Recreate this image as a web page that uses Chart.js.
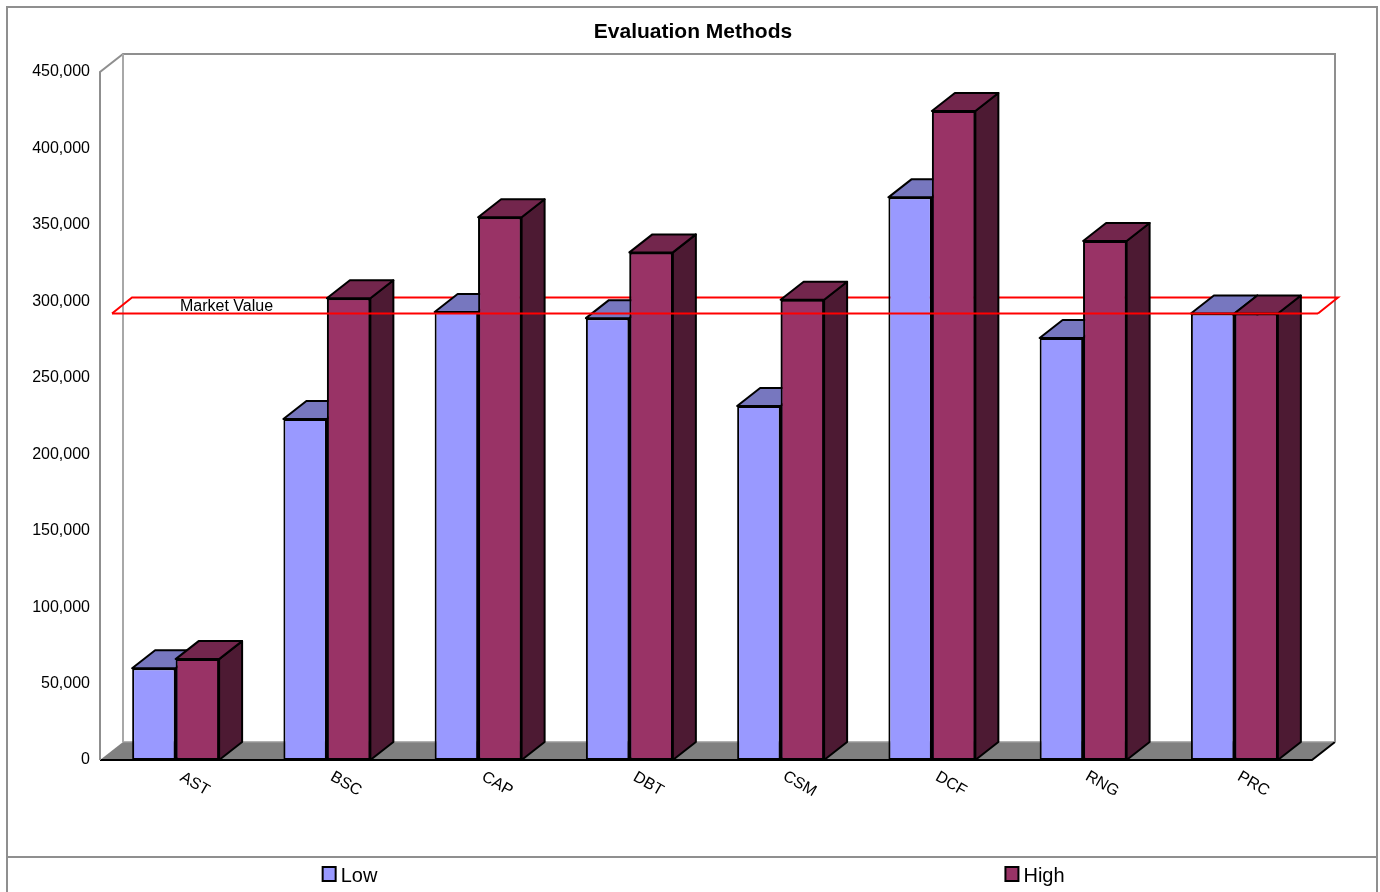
<!DOCTYPE html>
<html><head><meta charset="utf-8">
<script src="https://cdn.jsdelivr.net/npm/chart.js@4.4.1/dist/chart.umd.min.js"></script>
<style>html,body{margin:0;padding:0;background:#fff;overflow:hidden}#wrap{width:1380px;height:892px;position:relative}</style>
</head><body><div id="wrap"><canvas id="c"></canvas></div>
<script>
const chartTitle = 'Evaluation Methods';
const categories = ['AST','BSC','CAP','DBT','CSM','DCF','RNG','PRC'];
const seriesNames = ['Low','High'];
const lowValues  = [60000, 223000, 293000, 289000, 231500, 368000, 276000, 292000];
const highValues = [66000, 302000, 355000, 332000, 301000, 424500, 339500, 292000];
const marketValue = 292000;
const marketLabel = 'Market Value';
const yTickValues = [0, 50000, 100000, 150000, 200000, 250000, 300000, 350000, 400000, 450000];

const FONT = "'Liberation Sans', Arial, Helvetica, sans-serif";
const DX = 23, DY = -18;
const GRAY = '#8f8f8f';
const colors = [
  {front:'#9999FF', top:'#7777BF', side:'#4D4D80'},
  {front:'#993366', top:'#73264D', side:'#4D1A33'}
];

function line(ctx, pts, color, w){
  ctx.save(); ctx.strokeStyle = color; ctx.lineWidth = w; ctx.lineJoin='miter';
  ctx.beginPath(); ctx.moveTo(pts[0][0], pts[0][1]);
  for (let i=1;i<pts.length;i++) ctx.lineTo(pts[i][0], pts[i][1]);
  ctx.stroke(); ctx.restore();
}
function poly(ctx, pts, fill){
  ctx.save(); ctx.fillStyle = fill; ctx.strokeStyle='#000'; ctx.lineWidth=2; ctx.lineJoin='round';
  ctx.beginPath(); ctx.moveTo(pts[0][0], pts[0][1]);
  for (let i=1;i<pts.length;i++) ctx.lineTo(pts[i][0], pts[i][1]);
  ctx.closePath(); ctx.fill(); ctx.stroke(); ctx.restore();
}

const excel3d = {
  id: 'excel3d',
  beforeDraw(chart){
    const ctx = chart.ctx;
    ctx.save();
    ctx.fillStyle = '#fff'; ctx.fillRect(0,0,chart.width,chart.height);
    ctx.strokeStyle = GRAY; ctx.lineWidth = 2;
    ctx.strokeRect(7, 7, 1370, 850);
    line(ctx, [[7,857],[7,chart.height+2]], GRAY, 2);
    line(ctx, [[1377,857],[1377,chart.height+2]], GRAY, 2);
    ctx.restore();
  },
  beforeDatasetsDraw(chart){
    const ctx = chart.ctx;
    const {left, right, top, bottom} = chart.chartArea;
    const R = right + 2;
    ctx.save();
    ctx.fillStyle = '#808080';
    ctx.beginPath();
    ctx.moveTo(left, bottom); ctx.lineTo(left+DX, bottom+DY); ctx.lineTo(R+DX, bottom+DY); ctx.lineTo(R, bottom);
    ctx.closePath(); ctx.fill(); ctx.restore();
    line(ctx, [[left+DX, bottom+DY],[R+DX, bottom+DY]], '#999', 1.5);
    line(ctx, [[left, bottom],[R, bottom],[R+DX, bottom+DY]], '#000', 2);
    line(ctx, [[left, bottom],[left, top],[left+DX, top+DY],[R+DX, top+DY],[R+DX, bottom+DY]], GRAY, 2);
    line(ctx, [[left+DX, top+DY],[left+DX, bottom+DY]], '#a8a8a8', 2);
    const y = chart.scales.y.getPixelForValue(marketValue);
    const fl = left + 12, fr = right + 8, bdx = 20, bdy = -16;
    line(ctx, [[fl, y],[fl+bdx, y+bdy],[fr+bdx, y+bdy],[fr, y]], '#ff0000', 2);
  },
  afterDatasetsDraw(chart){
    const ctx = chart.ctx;
    const {left, right, top, bottom} = chart.chartArea;
    chart.data.datasets.forEach((ds, di) => {
      const meta = chart.getDatasetMeta(di);
      const c = colors[di];
      meta.data.forEach(el => {
        const p = el.getProps(['x','y','base','width'], true);
        const l = p.x - p.width/2, r = p.x + p.width/2, t = p.y, b = p.base;
        if (di > 0) el.draw(ctx);
        poly(ctx, [[r, t],[r+DX, t+DY],[r+DX, b+DY],[r, b]], c.side);
        poly(ctx, [[l, t],[l+DX, t+DY],[r+DX, t+DY],[r, t]], c.top);
      });
    });
    const y = chart.scales.y.getPixelForValue(marketValue);
    line(ctx, [[left+12, y],[right+8, y]], '#ff0000', 2);
    ctx.save();
    ctx.fillStyle = '#000'; ctx.font = '16px ' + FONT; ctx.textAlign = 'left'; ctx.textBaseline = 'middle';
    ctx.fillText(marketLabel, left + 80, y - 7);
    ctx.restore();
    const xs = chart.scales.x;
    ctx.save();
    ctx.fillStyle = '#000'; ctx.font = '16px ' + FONT; ctx.textAlign='center'; ctx.textBaseline='middle';
    categories.forEach((lab, i) => {
      const x = xs.getPixelForValue(i);
      ctx.save(); ctx.translate(x + 19, bottom + 24); ctx.rotate(Math.PI/6);
      ctx.fillText(lab, 0, 0); ctx.restore();
    });
    ctx.restore();
    ctx.save();
    ctx.fillStyle = '#000'; ctx.font = 'bold 21px ' + FONT; ctx.textAlign = 'center'; ctx.textBaseline = 'alphabetic';
    ctx.fillText(chartTitle, 693, 38);
    ctx.restore();
    ctx.save();
    ctx.font = '20px ' + FONT; ctx.textBaseline = 'alphabetic'; ctx.textAlign = 'left';
    const x0 = 7, w = 1370;
    seriesNames.forEach((name, i) => {
      const cx = x0 + w * (i === 0 ? 0.25 : 0.75);
      const tw = ctx.measureText(name).width;
      const iw = 14 + 5 + tw;
      const sx = cx - iw/2;
      ctx.fillStyle = colors[i].front; ctx.fillRect(sx+1, 867, 13, 14);
      ctx.strokeStyle = '#000'; ctx.lineWidth = 2; ctx.strokeRect(sx+1, 867, 13, 14);
      ctx.fillStyle = '#000'; ctx.fillText(name, sx + 19, 882);
    });
    ctx.restore();
  }
};

new Chart(document.getElementById('c'), {
  type: 'bar',
  data: {
    labels: categories,
    datasets: [
      {label: seriesNames[0], data: lowValues, backgroundColor: colors[0].front, borderColor: '#000', borderWidth: 2, borderSkipped: false},
      {label: seriesNames[1], data: highValues, backgroundColor: colors[1].front, borderColor: '#000', borderWidth: 2, borderSkipped: false}
    ]
  },
  options: {
    responsive: true, maintainAspectRatio: false, animation: false,
    devicePixelRatio: 1,
    layout: {padding: {left: 0, top: 72, right: 70, bottom: 132}},
    datasets: {bar: {categoryPercentage: 0.575, barPercentage: 1.0}},
    plugins: {legend: {display: false}, title: {display: false}, tooltip: {enabled: false}},
    scales: {
      x: {display: false},
      y: {
        min: 0, max: 450000,
        grid: {display: false, drawTicks: false},
        border: {display: false},
        afterFit(s){ s.width = 100; },
        afterBuildTicks(s){ s.ticks = yTickValues.map(v => ({value: v})); },
        ticks: {
          padding: 10, color: '#000', font: {family: FONT, size: 16},
          callback: v => Number(v).toLocaleString('en-US')
        }
      }
    }
  },
  plugins: [excel3d]
});
</script>
</body></html>
